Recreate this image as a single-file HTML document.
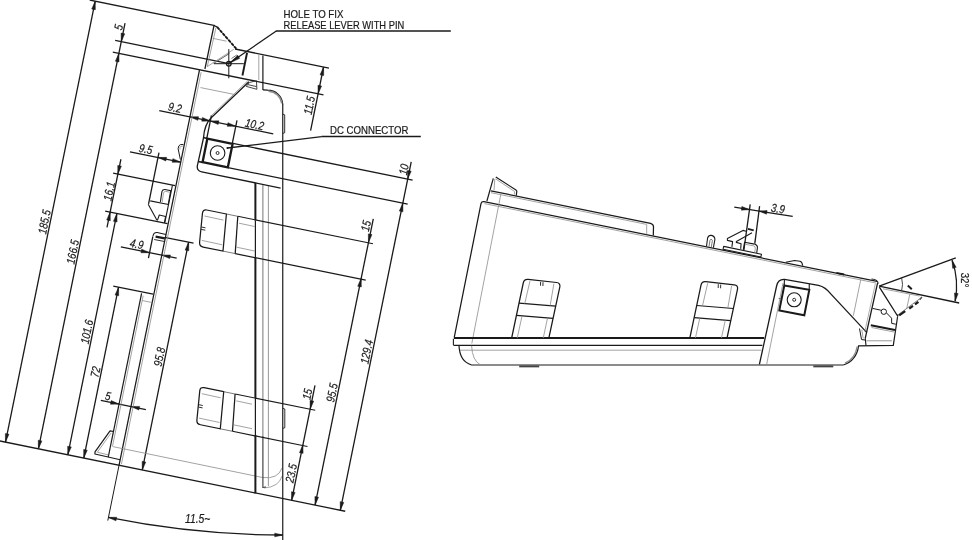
<!DOCTYPE html>
<html><head><meta charset="utf-8"><title>Drawing</title>
<style>html,body{margin:0;padding:0;background:#fff}svg{display:block;will-change:transform}</style></head>
<body>
<svg width="972" height="540" viewBox="0 0 972 540" font-family="'Liberation Sans', sans-serif" fill="#1a1a1a">
<line x1="89.72" y1="0.03" x2="215.05" y2="25.53" stroke="#1a1a1a" stroke-width="1.3"/>
<line x1="115.17" y1="40.42" x2="228.85" y2="63.55" stroke="#1a1a1a" stroke-width="1.3"/>
<line x1="112.8" y1="52.08" x2="323.49" y2="94.95" stroke="#1a1a1a" stroke-width="1.3"/>
<line x1="235.07" y1="49" x2="328.95" y2="68.1" stroke="#1a1a1a" stroke-width="1.3"/>
<line x1="-1.96" y1="440.6" x2="345.23" y2="511.24" stroke="#1a1a1a" stroke-width="1.3"/>
<line x1="159.26" y1="110.62" x2="273.23" y2="133.81" stroke="#1a1a1a" stroke-width="1.3"/>
<line x1="232.99" y1="143.48" x2="412.61" y2="180.02" stroke="#1a1a1a" stroke-width="1.3"/>
<line x1="228.07" y1="167.68" x2="407.69" y2="204.23" stroke="#1a1a1a" stroke-width="1.3"/>
<line x1="129.97" y1="151.81" x2="180.73" y2="162.13" stroke="#1a1a1a" stroke-width="1.3"/>
<line x1="113.09" y1="173.07" x2="175.12" y2="185.69" stroke="#1a1a1a" stroke-width="1.3"/>
<line x1="105.16" y1="211.05" x2="167.48" y2="223.73" stroke="#1a1a1a" stroke-width="1.3"/>
<line x1="165.79" y1="237.57" x2="193.52" y2="243.21" stroke="#1a1a1a" stroke-width="1.3"/>
<line x1="120.84" y1="246.79" x2="176.7" y2="258.16" stroke="#1a1a1a" stroke-width="1.3"/>
<line x1="113.26" y1="286.07" x2="153.14" y2="294.18" stroke="#1a1a1a" stroke-width="1.3"/>
<line x1="100.82" y1="400.39" x2="145.9" y2="409.56" stroke="#1a1a1a" stroke-width="1.3"/>
<line x1="95.2" y1="1.15" x2="5.49" y2="442.12" stroke="#1a1a1a" stroke-width="1.3"/>
<line x1="125.04" y1="23.04" x2="38.41" y2="448.82" stroke="#1a1a1a" stroke-width="1.3"/>
<line x1="120.9" y1="159.25" x2="107.02" y2="227.45" stroke="#1a1a1a" stroke-width="1.3"/>
<line x1="116.92" y1="213.44" x2="67.81" y2="454.8" stroke="#1a1a1a" stroke-width="1.3"/>
<line x1="118.55" y1="287.15" x2="83.78" y2="458.05" stroke="#1a1a1a" stroke-width="1.3"/>
<line x1="188.62" y1="242.21" x2="142.29" y2="469.95" stroke="#1a1a1a" stroke-width="1.3"/>
<line x1="158.99" y1="152.61" x2="148.56" y2="203.86" stroke="#1a1a1a" stroke-width="1.3"/>
<line x1="211.51" y1="115.13" x2="206.83" y2="138.16" stroke="#1a1a1a" stroke-width="1.3"/>
<line x1="236.99" y1="120.31" x2="232.11" y2="144.32" stroke="#1a1a1a" stroke-width="1.3"/>
<line x1="152.87" y1="236.37" x2="148.46" y2="258.02" stroke="#1a1a1a" stroke-width="1.3"/>
<line x1="314.99" y1="385.48" x2="291.63" y2="500.33" stroke="#1a1a1a" stroke-width="1.3"/>
<line x1="373.3" y1="218.76" x2="315.05" y2="505.1" stroke="#1a1a1a" stroke-width="1.3"/>
<line x1="411.22" y1="161.78" x2="340.33" y2="510.24" stroke="#1a1a1a" stroke-width="1.3"/>
<line x1="323.56" y1="67" x2="310.6" y2="130.69" stroke="#1a1a1a" stroke-width="1.3"/>
<polygon points="95.2,1.15 95.34,9.75 91.72,9.01" fill="#1a1a1a" stroke="#1a1a1a" stroke-width="0.5" stroke-linejoin="miter"/>
<polygon points="5.49,442.12 5.35,433.52 8.98,434.25" fill="#1a1a1a" stroke="#1a1a1a" stroke-width="0.5" stroke-linejoin="miter"/>
<polygon points="121.25,41.66 121.11,33.06 124.74,33.79" fill="#1a1a1a" stroke="#1a1a1a" stroke-width="0.5" stroke-linejoin="miter"/>
<polygon points="118.88,53.32 119.02,61.92 115.39,61.18" fill="#1a1a1a" stroke="#1a1a1a" stroke-width="0.5" stroke-linejoin="miter"/>
<polygon points="38.41,448.82 38.27,440.22 41.9,440.95" fill="#1a1a1a" stroke="#1a1a1a" stroke-width="0.5" stroke-linejoin="miter"/>
<polygon points="117.89,174.04 117.75,165.44 121.38,166.18" fill="#1a1a1a" stroke="#1a1a1a" stroke-width="0.5" stroke-linejoin="miter"/>
<polygon points="110.15,212.07 110.29,220.67 106.67,219.93" fill="#1a1a1a" stroke="#1a1a1a" stroke-width="0.5" stroke-linejoin="miter"/>
<polygon points="116.92,213.44 117.05,222.04 113.43,221.3" fill="#1a1a1a" stroke="#1a1a1a" stroke-width="0.5" stroke-linejoin="miter"/>
<polygon points="67.81,454.8 67.67,446.2 71.3,446.93" fill="#1a1a1a" stroke="#1a1a1a" stroke-width="0.5" stroke-linejoin="miter"/>
<polygon points="118.55,287.15 118.69,295.75 115.07,295.01" fill="#1a1a1a" stroke="#1a1a1a" stroke-width="0.5" stroke-linejoin="miter"/>
<polygon points="83.78,458.05 83.65,449.45 87.27,450.18" fill="#1a1a1a" stroke="#1a1a1a" stroke-width="0.5" stroke-linejoin="miter"/>
<polygon points="188.62,242.21 188.76,250.81 185.13,250.08" fill="#1a1a1a" stroke="#1a1a1a" stroke-width="0.5" stroke-linejoin="miter"/>
<polygon points="142.29,469.95 142.15,461.35 145.77,462.09" fill="#1a1a1a" stroke="#1a1a1a" stroke-width="0.5" stroke-linejoin="miter"/>
<polygon points="310.21,409 310.07,400.4 313.69,401.14" fill="#1a1a1a" stroke="#1a1a1a" stroke-width="0.5" stroke-linejoin="miter"/>
<polygon points="302.93,444.77 303.07,453.37 299.44,452.63" fill="#1a1a1a" stroke="#1a1a1a" stroke-width="0.5" stroke-linejoin="miter"/>
<polygon points="291.63,500.33 291.49,491.73 295.11,492.47" fill="#1a1a1a" stroke="#1a1a1a" stroke-width="0.5" stroke-linejoin="miter"/>
<polygon points="368.48,242.48 368.34,233.88 371.96,234.61" fill="#1a1a1a" stroke="#1a1a1a" stroke-width="0.5" stroke-linejoin="miter"/>
<polygon points="361.18,278.34 361.32,286.94 357.69,286.2" fill="#1a1a1a" stroke="#1a1a1a" stroke-width="0.5" stroke-linejoin="miter"/>
<polygon points="315.05,505.1 314.91,496.5 318.53,497.23" fill="#1a1a1a" stroke="#1a1a1a" stroke-width="0.5" stroke-linejoin="miter"/>
<polygon points="407.71,179.03 407.58,170.43 411.2,171.16" fill="#1a1a1a" stroke="#1a1a1a" stroke-width="0.5" stroke-linejoin="miter"/>
<polygon points="402.79,203.23 402.93,211.83 399.3,211.09" fill="#1a1a1a" stroke="#1a1a1a" stroke-width="0.5" stroke-linejoin="miter"/>
<polygon points="340.33,510.24 340.19,501.64 343.82,502.38" fill="#1a1a1a" stroke="#1a1a1a" stroke-width="0.5" stroke-linejoin="miter"/>
<polygon points="323.56,67 323.7,75.6 320.07,74.86" fill="#1a1a1a" stroke="#1a1a1a" stroke-width="0.5" stroke-linejoin="miter"/>
<polygon points="318.1,93.85 317.96,85.25 321.58,85.99" fill="#1a1a1a" stroke="#1a1a1a" stroke-width="0.5" stroke-linejoin="miter"/>
<polygon points="189.94,116.86 198.54,116.72 197.8,120.35" fill="#1a1a1a" stroke="#1a1a1a" stroke-width="0.5" stroke-linejoin="miter"/>
<polygon points="210.32,121.01 201.72,121.14 202.46,117.52" fill="#1a1a1a" stroke="#1a1a1a" stroke-width="0.5" stroke-linejoin="miter"/>
<polygon points="210.32,121.01 218.92,120.87 218.18,124.49" fill="#1a1a1a" stroke="#1a1a1a" stroke-width="0.5" stroke-linejoin="miter"/>
<polygon points="235.8,126.19 227.2,126.33 227.93,122.7" fill="#1a1a1a" stroke="#1a1a1a" stroke-width="0.5" stroke-linejoin="miter"/>
<polygon points="157.99,157.51 166.59,157.37 165.85,160.99" fill="#1a1a1a" stroke="#1a1a1a" stroke-width="0.5" stroke-linejoin="miter"/>
<polygon points="180.73,162.13 172.13,162.27 172.86,158.64" fill="#1a1a1a" stroke="#1a1a1a" stroke-width="0.5" stroke-linejoin="miter"/>
<polygon points="149.56,252.64 140.96,252.77 141.69,249.15" fill="#1a1a1a" stroke="#1a1a1a" stroke-width="0.5" stroke-linejoin="miter"/>
<polygon points="161.81,255.13 170.41,254.99 169.67,258.61" fill="#1a1a1a" stroke="#1a1a1a" stroke-width="0.5" stroke-linejoin="miter"/>
<polygon points="119.05,404.09 110.45,404.23 111.19,400.61" fill="#1a1a1a" stroke="#1a1a1a" stroke-width="0.5" stroke-linejoin="miter"/>
<polygon points="131,406.53 139.6,406.39 138.87,410.01" fill="#1a1a1a" stroke="#1a1a1a" stroke-width="0.5" stroke-linejoin="miter"/>
<text transform="translate(44.19 221.81) rotate(-78.5) scale(0.83 1)" y="4.25" font-size="11.8" text-anchor="middle" stroke="#1a1a1a" stroke-width="0.22" font-style="italic">185.5</text>
<text transform="translate(72.56 251.87) rotate(-78.5) scale(0.83 1)" y="4.25" font-size="11.8" text-anchor="middle" stroke="#1a1a1a" stroke-width="0.22" font-style="italic">166.5</text>
<text transform="translate(118.26 27.27) rotate(-78.5) scale(0.83 1)" y="4.25" font-size="11.8" text-anchor="middle" stroke="#1a1a1a" stroke-width="0.22" font-style="italic">5</text>
<text transform="translate(108.99 191.21) rotate(-78.5) scale(0.83 1)" y="4.25" font-size="11.8" text-anchor="middle" stroke="#1a1a1a" stroke-width="0.22" font-style="italic">16.1</text>
<text transform="translate(86.73 331.7) rotate(-78.5) scale(0.83 1)" y="4.25" font-size="11.8" text-anchor="middle" stroke="#1a1a1a" stroke-width="0.22" font-style="italic">101.6</text>
<text transform="translate(95.21 371.79) rotate(-78.5) scale(0.83 1)" y="4.25" font-size="11.8" text-anchor="middle" stroke="#1a1a1a" stroke-width="0.22" font-style="italic">72</text>
<text transform="translate(159.19 356.75) rotate(-78.5) scale(0.83 1)" y="4.25" font-size="11.8" text-anchor="middle" stroke="#1a1a1a" stroke-width="0.22" font-style="italic">95.8</text>
<text transform="translate(291.03 473.17) rotate(-78.5) scale(0.83 1)" y="4.25" font-size="11.8" text-anchor="middle" stroke="#1a1a1a" stroke-width="0.22" font-style="italic">23.5</text>
<text transform="translate(307.12 394.09) rotate(-78.5) scale(0.83 1)" y="4.25" font-size="11.8" text-anchor="middle" stroke="#1a1a1a" stroke-width="0.22" font-style="italic">15</text>
<text transform="translate(331.81 392.58) rotate(-78.5) scale(0.83 1)" y="4.25" font-size="11.8" text-anchor="middle" stroke="#1a1a1a" stroke-width="0.22" font-style="italic">95.5</text>
<text transform="translate(365.75 225.8) rotate(-78.5) scale(0.83 1)" y="4.25" font-size="11.8" text-anchor="middle" stroke="#1a1a1a" stroke-width="0.22" font-style="italic">15</text>
<text transform="translate(366.45 351.77) rotate(-78.5) scale(0.83 1)" y="4.25" font-size="11.8" text-anchor="middle" stroke="#1a1a1a" stroke-width="0.22" font-style="italic">129.4</text>
<text transform="translate(403.57 169.3) rotate(-78.5) scale(0.83 1)" y="4.25" font-size="11.8" text-anchor="middle" stroke="#1a1a1a" stroke-width="0.22" font-style="italic">10</text>
<text transform="translate(309.12 105.39) rotate(-78.5) scale(0.83 1)" y="4.25" font-size="11.8" text-anchor="middle" stroke="#1a1a1a" stroke-width="0.22" font-style="italic">11.5</text>
<text transform="translate(175 107.49) rotate(11.5) scale(0.83 1)" y="4.25" font-size="11.8" text-anchor="middle" stroke="#1a1a1a" stroke-width="0.22" font-style="italic">9.2</text>
<text transform="translate(254.57 124.19) rotate(11.5) scale(0.83 1)" y="4.25" font-size="11.8" text-anchor="middle" stroke="#1a1a1a" stroke-width="0.22" font-style="italic">10.2</text>
<text transform="translate(145.86 148.92) rotate(11.5) scale(0.83 1)" y="4.25" font-size="11.8" text-anchor="middle" stroke="#1a1a1a" stroke-width="0.22" font-style="italic">9.5</text>
<text transform="translate(136.74 243.9) rotate(11.5) scale(0.83 1)" y="4.25" font-size="11.8" text-anchor="middle" stroke="#1a1a1a" stroke-width="0.22" font-style="italic">4.9</text>
<text transform="translate(107.98 395.82) rotate(11.5) scale(0.83 1)" y="4.25" font-size="11.8" text-anchor="middle" stroke="#1a1a1a" stroke-width="0.22" font-style="italic">5</text>
<path d="M108.48 517.46 A874.6 874.6 0 0 0 282.75 535" fill="none" stroke="#1a1a1a" stroke-width="1.3" />
<polygon points="108.48,517.46 116.69,517.24 115.95,520.87" fill="#1a1a1a" stroke="#1a1a1a" stroke-width="0.5" stroke-linejoin="miter"/>
<polygon points="282.75,535 274.75,536.85 274.75,533.15" fill="#1a1a1a" stroke="#1a1a1a" stroke-width="0.5" stroke-linejoin="miter"/>
<text transform="translate(197.6 518.3) rotate(0) scale(0.83 1)" y="4.5" font-size="12.5" text-anchor="middle" stroke="#1a1a1a" stroke-width="0.22" font-style="italic">11.5~</text>
<line x1="199.47" y1="70.02" x2="119.06" y2="465.22" stroke="#1a1a1a" stroke-width="1.25"/>
<line x1="119.06" y1="465.22" x2="107.8" y2="520.59" stroke="#1a1a1a" stroke-width="1"/>
<line x1="201.16" y1="72.2" x2="121.42" y2="464.17" stroke="#8c8c8c" stroke-width="0.8"/>
<line x1="141.6" y1="293.26" x2="108.24" y2="457.21" stroke="#1a1a1a" stroke-width="1.2"/>
<line x1="143.16" y1="295.62" x2="112.45" y2="446.53" stroke="#8c8c8c" stroke-width="0.8"/>
<line x1="142.16" y1="300.52" x2="151.67" y2="302.46" stroke="#8c8c8c" stroke-width="0.8"/>
<path d="M113.47 431.53 L110.04 430.83 L95.02 451.96 L94.92 453.98 L120.18 459.74" fill="none" stroke="#1a1a1a" stroke-width="1.2" stroke-linejoin="round"/>
<path d="M111.13 432.99 L97.32 452.23 L108.41 454.89" fill="none" stroke="#8c8c8c" stroke-width="0.8" stroke-linejoin="round"/>
<line x1="113.14" y1="446.67" x2="262.5" y2="477.5" stroke="#8c8c8c" stroke-width="0.8"/>
<path d="M262.5 477.5 Q278 479.5 282 468" fill="none" stroke="#8c8c8c" stroke-width="0.8" />
<path d="M264 488 Q279 487 282 476" fill="none" stroke="#8c8c8c" stroke-width="0.8" />
<line x1="282.75" y1="103.9" x2="282.75" y2="540" stroke="#1a1a1a" stroke-width="1.2"/>
<line x1="255.4" y1="182.6" x2="255.4" y2="220.4" stroke="#1a1a1a" stroke-width="2"/>
<line x1="255.4" y1="220.4" x2="255.4" y2="257.4" stroke="#1a1a1a" stroke-width="1.2"/>
<line x1="255.4" y1="257.4" x2="255.4" y2="398" stroke="#1a1a1a" stroke-width="2"/>
<line x1="255.4" y1="398" x2="255.4" y2="435" stroke="#1a1a1a" stroke-width="1.2"/>
<line x1="255.4" y1="435" x2="255.4" y2="493.4" stroke="#1a1a1a" stroke-width="2"/>
<line x1="262.9" y1="184.5" x2="262.9" y2="436" stroke="#777" stroke-width="1"/>
<line x1="262.9" y1="436" x2="262.9" y2="488" stroke="#333" stroke-width="1.1"/>
<path d="M262.9 488.0 L263.6 487.3 L266.0 487.0" fill="none" stroke="#333" stroke-width="1" />
<line x1="268.4" y1="185.8" x2="268.4" y2="486" stroke="#8c8c8c" stroke-width="0.9"/>
<path d="M282.8 114.2 L284.7 114.8 L284.7 132.8 L282.8 133.3" fill="none" stroke="#1a1a1a" stroke-width="0.9" stroke-linejoin="round"/>
<path d="M282.8 408.3 L284.8 409 L284.8 427.8 L282.8 428.3" fill="none" stroke="#1a1a1a" stroke-width="0.9" stroke-linejoin="round"/>
<line x1="262.9" y1="55.6" x2="262.9" y2="89.9" stroke="#1a1a1a" stroke-width="1.2"/>
<path d="M262.9 89.9 L267.8 90.2 A15 15 0 0 1 282.75 104.2" fill="none" stroke="#1a1a1a" stroke-width="1.2" />
<path d="M268.5 91.2 A14 14 0 0 1 281.8 103.5" fill="none" stroke="#8c8c8c" stroke-width="1.6" />
<line x1="258.8" y1="54.4" x2="258.8" y2="80" stroke="#8c8c8c" stroke-width="0.8"/>
<line x1="247.06" y1="52.76" x2="242.44" y2="75.5" stroke="#1a1a1a" stroke-width="1.9"/>
<path d="M214.3 25.8 L217.1 26.9" fill="none" stroke="#1a1a1a" stroke-width="1.2" stroke-linejoin="round"/>
<path d="M213.9 26 L204.9 69" fill="none" stroke="#1a1a1a" stroke-width="1.25" stroke-linejoin="round"/>
<path d="M216 27.5 L207.3 66.5" fill="none" stroke="#8c8c8c" stroke-width="0.8" stroke-linejoin="round"/>
<path d="M217.1 26.9 L236.6 49.1" fill="none" stroke="#1a1a1a" stroke-width="1.9" stroke-dasharray="3.2 1.1"/>
<path d="M217.6 27.6 L236.2 48.7" fill="none" stroke="#1a1a1a" stroke-width="1" stroke-linejoin="round"/>
<path d="M212.7 38.3 L226.5 41.2" fill="none" stroke="#8c8c8c" stroke-width="0.8" stroke-linejoin="round"/>
<path d="M207.1 66.7 L233.8 49.3" fill="none" stroke="#8c8c8c" stroke-width="0.8" stroke-linejoin="round"/>
<path d="M213.8 63.3 L229.3 53.6" fill="none" stroke="#555" stroke-width="0.9" stroke-linejoin="round"/>
<path d="M231.5 58.5 L236.5 55.2 L238.6 56.4 L233 60" fill="none" stroke="#555" stroke-width="0.8" stroke-linejoin="round"/>
<circle cx="228.8" cy="63.8" r="2.3" fill="none" stroke="#1a1a1a" stroke-width="1.3"/>
<line x1="228.8" y1="49.1" x2="228.8" y2="78.3" stroke="#1a1a1a" stroke-width="1"/>
<line x1="213.8" y1="63.7" x2="243.8" y2="63.7" stroke="#1a1a1a" stroke-width="1"/>
<line x1="229.3" y1="63.3" x2="276.3" y2="31" stroke="#1a1a1a" stroke-width="1.3"/>
<line x1="275.9" y1="31" x2="450.8" y2="31" stroke="#1a1a1a" stroke-width="1.3"/>
<polygon points="229.6,63.1 237.65,55.39 239.69,58.35" fill="#1a1a1a" stroke="#1a1a1a" stroke-width="0.5" stroke-linejoin="miter"/>
<text transform="translate(283.6 17.8) rotate(0)" y="0" font-size="11.5" text-anchor="start" stroke="#1a1a1a" stroke-width="0.22" textLength="59.8" lengthAdjust="spacingAndGlyphs">HOLE TO FIX</text>
<text transform="translate(283.6 29.2) rotate(0)" y="0" font-size="11.5" text-anchor="start" stroke="#1a1a1a" stroke-width="0.22" textLength="120.6" lengthAdjust="spacingAndGlyphs">RELEASE LEVER WITH PIN</text>
<path d="M248.9 81.7 L211.2 117.8 Q204.3 124.5 203.5 138 " fill="none" stroke="#1a1a1a" stroke-width="1.3" />
<path d="M247.6 81 L210.5 116.6" fill="none" stroke="#8c8c8c" stroke-width="0.9" stroke-linejoin="round"/>
<path d="M203.5 138 L197.42 165.33 Q196.33 170.72 201.72 171.81 L280.6 188.1" fill="none" stroke="#1a1a1a" stroke-width="1.3" />
<line x1="200.49" y1="87.58" x2="234.29" y2="94.45" stroke="#8c8c8c" stroke-width="0.8"/>
<path d="M249.5 82.5 L256.4 80.6 L256.9 89.3 L246.2 86.4 Z" fill="none" stroke="#333" stroke-width="0.9" stroke-linejoin="round"/>
<path d="M247.8 84.6 L256.5 86.6" fill="none" stroke="#333" stroke-width="0.9" stroke-linejoin="round"/>
<path d="M207.34 138.67 L232.62 143.81 L227.84 167.33 L202.55 162.19 Z" fill="none" stroke="#1a1a1a" stroke-width="2.3" stroke-linejoin="miter"/>
<line x1="203.07" y1="137.59" x2="207.48" y2="138.49" stroke="#1a1a1a" stroke-width="1.6"/>
<line x1="198.2" y1="161.5" x2="202.61" y2="162.4" stroke="#1a1a1a" stroke-width="1.6"/>
<circle cx="217.59" cy="153" r="7.3" fill="none" stroke="#1a1a1a" stroke-width="1.1"/>
<circle cx="217.59" cy="153" r="1.5" fill="none" stroke="#1a1a1a" stroke-width="0.9"/>
<circle cx="227.5" cy="148" r="1.1" fill="#1a1a1a"/>
<line x1="227.5" y1="148" x2="321.7" y2="136.6" stroke="#1a1a1a" stroke-width="1.3"/>
<line x1="321.5" y1="136.5" x2="420.8" y2="136.5" stroke="#1a1a1a" stroke-width="1.3"/>
<text transform="translate(330 134.3) rotate(0)" y="0" font-size="11.5" text-anchor="start" stroke="#1a1a1a" stroke-width="0.22" textLength="78.4" lengthAdjust="spacingAndGlyphs">DC CONNECTOR</text>
<path d="M183.4 144.6 L180.6 144.5 Q178.3 145.2 178.1 148.7 L180.4 159.6" fill="none" stroke="#1a1a1a" stroke-width="1" />
<path d="M182.6 146.2 L180.8 146.3 Q179.7 147 179.9 149.5" fill="none" stroke="#8c8c8c" stroke-width="0.8" />
<path d="M148.2 204.3 L156.7 219.8 L157.5 220.1 L159.3 215 L165.6 216.5 L164.4 222.8" fill="none" stroke="#1a1a1a" stroke-width="1.1" stroke-linejoin="round"/>
<path d="M150.2 200.9 L168.5 204.5" fill="none" stroke="#1a1a1a" stroke-width="1.1" stroke-linejoin="round"/>
<path d="M160.4 201.8 L161.9 191.6 Q162.7 189.3 165 189.5 L170.7 190.6 L168.3 204.3" fill="none" stroke="#1a1a1a" stroke-width="1.1" />
<path d="M162.2 202 L163.5 193.0 Q164.2 191.2 165.8 191.4 L169.6 192.2" fill="none" stroke="#8c8c8c" stroke-width="0.8" />
<path d="M172.47 185.15 L164.87 222.48" fill="none" stroke="#1a1a1a" stroke-width="1.1" stroke-linejoin="round"/>
<path d="M165.9 234.5 L157.2 232.5 Q153.6 232.2 153.0 236.0" fill="none" stroke="#1a1a1a" stroke-width="1.1" />
<path d="M155.6 236.6 L164.9 238.4" fill="none" stroke="#1a1a1a" stroke-width="2.2" stroke-linejoin="round"/>
<path d="M154.2 239.5 L165 241.6" fill="none" stroke="#1a1a1a" stroke-width="0.9" stroke-linejoin="round"/>
<path d="M226.4 214 L206.77 210 Q202.85 209.2 202.46 213.2 L199.59 242.25 Q199.2 246.25 203.12 247.05 L223 251.1 Z" fill="none" stroke="#1a1a1a" stroke-width="1.25" />
<path d="M226.4 214 L237.8 216.3" fill="none" stroke="#555" stroke-width="0.8" stroke-linejoin="round"/>
<path d="M223 251.1 L235.2 253.6" fill="none" stroke="#555" stroke-width="0.8" stroke-linejoin="round"/>
<path d="M237.8 216.3 L235.2 253.6" fill="none" stroke="#1a1a1a" stroke-width="1.25" stroke-linejoin="round"/>
<path d="M204.5 216 L223.4 220.1" fill="none" stroke="#8c8c8c" stroke-width="0.8" stroke-linejoin="round"/>
<path d="M201.8 240.4 L222.3 244.8" fill="none" stroke="#8c8c8c" stroke-width="0.8" stroke-linejoin="round"/>
<path d="M239 223.2 L254.7 226.5" fill="none" stroke="#8c8c8c" stroke-width="0.8" stroke-linejoin="round"/>
<path d="M236.6 247.2 L254.7 251" fill="none" stroke="#8c8c8c" stroke-width="0.8" stroke-linejoin="round"/>
<path d="M201.4 227 L205.5 227.8" fill="none" stroke="#1a1a1a" stroke-width="0.9" stroke-linejoin="round"/>
<path d="M201.2 229.4 L205.3 230.2" fill="none" stroke="#1a1a1a" stroke-width="0.9" stroke-linejoin="round"/>
<path d="M223.7 391.7 L204.07 387.7 Q200.15 386.9 199.76 390.9 L196.89 419.95 Q196.5 423.95 200.42 424.75 L220.3 428.8 Z" fill="none" stroke="#1a1a1a" stroke-width="1.25" />
<path d="M223.7 391.7 L235.1 394" fill="none" stroke="#555" stroke-width="0.8" stroke-linejoin="round"/>
<path d="M220.3 428.8 L232.5 431.3" fill="none" stroke="#555" stroke-width="0.8" stroke-linejoin="round"/>
<path d="M235.1 394 L232.5 431.3" fill="none" stroke="#1a1a1a" stroke-width="1.25" stroke-linejoin="round"/>
<path d="M201.8 393.7 L220.7 397.8" fill="none" stroke="#8c8c8c" stroke-width="0.8" stroke-linejoin="round"/>
<path d="M199.1 418.1 L219.6 422.5" fill="none" stroke="#8c8c8c" stroke-width="0.8" stroke-linejoin="round"/>
<path d="M236.3 400.9 L252 404.2" fill="none" stroke="#8c8c8c" stroke-width="0.8" stroke-linejoin="round"/>
<path d="M233.9 424.9 L252 428.7" fill="none" stroke="#8c8c8c" stroke-width="0.8" stroke-linejoin="round"/>
<path d="M198.7 404.7 L202.8 405.5" fill="none" stroke="#1a1a1a" stroke-width="0.9" stroke-linejoin="round"/>
<path d="M198.5 407.1 L202.6 407.9" fill="none" stroke="#1a1a1a" stroke-width="0.9" stroke-linejoin="round"/>
<line x1="237.8" y1="216.3" x2="373" y2="243.81" stroke="#1a1a1a" stroke-width="1.1"/>
<line x1="235.2" y1="253.6" x2="365.71" y2="280.15" stroke="#1a1a1a" stroke-width="1.1"/>
<line x1="235.1" y1="394" x2="315.25" y2="410.31" stroke="#1a1a1a" stroke-width="1.1"/>
<line x1="232.5" y1="431.3" x2="307.47" y2="446.55" stroke="#1a1a1a" stroke-width="1.1"/>
<path d="M454.2 337.6 L481.0 203.6 Q481.6 201.4 484 201.7 L877 281.4" fill="none" stroke="#1a1a1a" stroke-width="1.25" />
<line x1="484.5" y1="203.6" x2="876" y2="283" stroke="#8c8c8c" stroke-width="0.8"/>
<line x1="500.8" y1="194.4" x2="471.8" y2="343.5" stroke="#8c8c8c" stroke-width="0.8"/>
<path d="M486.9 201.0 L493.3 178.3" fill="none" stroke="#1a1a1a" stroke-width="1.2" />
<path d="M490.8 190.8 L650.5 223.3 Q653.6 224.2 653.5 227 L653.3 235.6" fill="none" stroke="#1a1a1a" stroke-width="1.25" />
<line x1="491" y1="192.7" x2="646.6" y2="224.4" stroke="#8c8c8c" stroke-width="0.8"/>
<line x1="646.7" y1="224.5" x2="646.7" y2="234.2" stroke="#8c8c8c" stroke-width="0.8"/>
<path d="M495.8 177 L516 190 L516.8 191.2 L516.3 195.6" fill="none" stroke="#1a1a1a" stroke-width="1.2" stroke-linejoin="round"/>
<path d="M494.8 179 L494 190.5" fill="none" stroke="#8c8c8c" stroke-width="0.8" stroke-linejoin="round"/>
<path d="M495.5 178.8 L514.6 191.5 L514.4 194.6" fill="none" stroke="#8c8c8c" stroke-width="0.8" stroke-linejoin="round"/>
<line x1="454" y1="338" x2="764.2" y2="338" stroke="#1a1a1a" stroke-width="1.9"/>
<path d="M453.4 338.8 L453.4 345 L454.6 345.4 L762.4 345.4" fill="none" stroke="#1a1a1a" stroke-width="1.1" stroke-linejoin="round"/>
<line x1="460" y1="350.2" x2="761.4" y2="350.2" stroke="#8c8c8c" stroke-width="0.8"/>
<path d="M459.0 345.6 Q459.6 361.5 471.5 365.0 L843.3 365.0" fill="none" stroke="#1a1a1a" stroke-width="1.2" />
<path d="M471.6 345.8 Q472.3 360.5 480.3 364.8" fill="none" stroke="#8c8c8c" stroke-width="0.8" />
<line x1="519.2" y1="366.4" x2="539.2" y2="366.4" stroke="#444" stroke-width="1.9"/>
<line x1="813.3" y1="366.4" x2="833.3" y2="366.4" stroke="#444" stroke-width="1.9"/>
<path d="M843.3 365 Q856.5 360.5 858.6 345.8 L893.3 345.3 L897.6 316.5" fill="none" stroke="#1a1a1a" stroke-width="1.2" />
<path d="M845 363.2 Q855.3 358.6 857.2 346.5" fill="none" stroke="#8c8c8c" stroke-width="1.4" />
<line x1="866.5" y1="340.8" x2="892" y2="340.8" stroke="#8c8c8c" stroke-width="0.9"/>
<path d="M785.8 262.3 L794.5 260.5 L800.0 261.3 Q802.2 261.9 802.7 265.6" fill="none" stroke="#1a1a1a" stroke-width="1.1" />
<line x1="836.4" y1="272.9" x2="844.2" y2="274.5" stroke="#1a1a1a" stroke-width="1.9"/>
<path d="M706.5 246.2 L707.6 238.0 Q708.6 235.0 711.3 235.4 Q714.8 236.0 714.9 239.5 L713.4 247.6" fill="none" stroke="#1a1a1a" stroke-width="1.1" />
<path d="M709.0 246.5 L710.0 240.2 Q711.2 237.6 712.4 240.6 L711.3 247.0" fill="none" stroke="#555" stroke-width="0.8" />
<path d="M723.7 246.4 L761.5 254.2 L760.9 257 L723.1 249.2 Z" fill="none" stroke="#1a1a1a" stroke-width="1.1" stroke-linejoin="round"/>
<path d="M731.9 246.9 L732.6 241.6 L727.4 240.4 L727.4 238.5 L743 230.4 L746 231.2" fill="none" stroke="#1a1a1a" stroke-width="1.1" stroke-linejoin="round"/>
<path d="M740.7 248.9 L741.1 243.7 L736.3 242.4 L736.4 241.4 L752 232.7" fill="none" stroke="#1a1a1a" stroke-width="1.1" stroke-linejoin="round"/>
<path d="M743.3 249.6 L744.6 242.2 L754.6 244.1" fill="none" stroke="#1a1a1a" stroke-width="1.1" stroke-linejoin="round"/>
<path d="M754.6 244.1 Q757.8 245.0 757.4 248.0 L756.7 252.8" fill="none" stroke="#1a1a1a" stroke-width="1.1" />
<path d="M745.8 244.4 L753.6 245.8 Q755.6 246.4 755.3 248.4 L754.7 252.2" fill="none" stroke="#8c8c8c" stroke-width="0.8" />
<path d="M747.9 228.8 L753.7 230.3" fill="none" stroke="#1a1a1a" stroke-width="1.9" stroke-linejoin="round"/>
<line x1="734.3" y1="207.2" x2="792.7" y2="216.4" stroke="#1a1a1a" stroke-width="1.3"/>
<line x1="750.2" y1="204.4" x2="743.9" y2="250" stroke="#1a1a1a" stroke-width="1.3"/>
<line x1="759.6" y1="206.1" x2="754.8" y2="243.7" stroke="#1a1a1a" stroke-width="1.3"/>
<polygon points="749.5,209.6 741.31,210.18 741.89,206.53" fill="#1a1a1a" stroke="#1a1a1a" stroke-width="0.5" stroke-linejoin="miter"/>
<polygon points="758.9,211.1 767.09,210.52 766.51,214.17" fill="#1a1a1a" stroke="#1a1a1a" stroke-width="0.5" stroke-linejoin="miter"/>
<text transform="translate(778 208.4) rotate(9) scale(0.83 1)" y="4.25" font-size="11.8" text-anchor="middle" stroke="#1a1a1a" stroke-width="0.22" font-style="italic">3.9</text>
<path d="M511.66 338 L523.26 283 Q524.11 279 528.11 279.43 L556.5 282.5 Q560.5 282.93 559.83 286.93 L548.85 338" fill="none" stroke="#1a1a1a" stroke-width="1.25" />
<path d="M519 303.2 L555.69 306.2" fill="none" stroke="#1a1a1a" stroke-width="1.2" stroke-linejoin="round"/>
<path d="M516.43 315.4 L553.06 318.4" fill="none" stroke="#1a1a1a" stroke-width="1.2" stroke-linejoin="round"/>
<path d="M530 280.9 L524.74 303.7" fill="none" stroke="#8c8c8c" stroke-width="0.8" stroke-linejoin="round"/>
<path d="M553.9 283.7 L550.13 305.7" fill="none" stroke="#8c8c8c" stroke-width="0.8" stroke-linejoin="round"/>
<path d="M521.99 316.1 L517.26 338" fill="none" stroke="#8c8c8c" stroke-width="0.8" stroke-linejoin="round"/>
<path d="M547.55 318 L543.25 338" fill="none" stroke="#8c8c8c" stroke-width="0.8" stroke-linejoin="round"/>
<path d="M540.6 281.9 L540.5 285.7" fill="none" stroke="#1a1a1a" stroke-width="0.9" stroke-linejoin="round"/>
<path d="M543 282.2 L542.9 286" fill="none" stroke="#1a1a1a" stroke-width="0.9" stroke-linejoin="round"/>
<path d="M689.84 338 L700.96 285.3 Q701.81 281.3 705.81 281.73 L734.2 284.8 Q738.2 285.23 737.53 289.23 L727.04 338" fill="none" stroke="#1a1a1a" stroke-width="1.25" />
<path d="M696.7 305.5 L733.39 308.5" fill="none" stroke="#1a1a1a" stroke-width="1.2" stroke-linejoin="round"/>
<path d="M694.13 317.7 L730.76 320.7" fill="none" stroke="#1a1a1a" stroke-width="1.2" stroke-linejoin="round"/>
<path d="M707.7 283.2 L702.44 306" fill="none" stroke="#8c8c8c" stroke-width="0.8" stroke-linejoin="round"/>
<path d="M731.6 286 L727.83 308" fill="none" stroke="#8c8c8c" stroke-width="0.8" stroke-linejoin="round"/>
<path d="M699.69 318.4 L695.44 338" fill="none" stroke="#8c8c8c" stroke-width="0.8" stroke-linejoin="round"/>
<path d="M725.25 320.3 L721.44 338" fill="none" stroke="#8c8c8c" stroke-width="0.8" stroke-linejoin="round"/>
<path d="M718.3 284.2 L718.2 288" fill="none" stroke="#1a1a1a" stroke-width="0.9" stroke-linejoin="round"/>
<path d="M720.7 284.5 L720.6 288.3" fill="none" stroke="#1a1a1a" stroke-width="0.9" stroke-linejoin="round"/>
<path d="M759.4 364.4 L776.6 286.0 Q778.0 279.0 784.5 279.4 L818.5 285.4 Q825.5 287.0 831 294.2 L866.9 332.6" fill="none" stroke="#1a1a1a" stroke-width="1.3" />
<line x1="783" y1="283" x2="766.6" y2="364.6" stroke="#8c8c8c" stroke-width="0.8"/>
<path d="M784.3 285.5 L809.3 289.7 L804.3 315.3 L779.3 310.4 Z" fill="none" stroke="#1a1a1a" stroke-width="2" stroke-linejoin="miter"/>
<line x1="784.4" y1="279.6" x2="784.3" y2="285" stroke="#1a1a1a" stroke-width="1.1"/>
<line x1="809.3" y1="284" x2="809.2" y2="289.2" stroke="#1a1a1a" stroke-width="1.1"/>
<line x1="778.6" y1="298.4" x2="781.2" y2="298.8" stroke="#555" stroke-width="0.8"/>
<circle cx="794.2" cy="299.8" r="7" fill="none" stroke="#1a1a1a" stroke-width="1.1"/>
<circle cx="794.2" cy="299.8" r="1.5" fill="none" stroke="#1a1a1a" stroke-width="0.9"/>
<path d="M871.5 279.0 Q877.8 279.2 878.2 283.6" fill="none" stroke="#1a1a1a" stroke-width="1.1" />
<line x1="877.6" y1="283" x2="865.2" y2="338.5" stroke="#1a1a1a" stroke-width="1.25"/>
<line x1="875.4" y1="283.6" x2="864.8" y2="331.5" stroke="#8c8c8c" stroke-width="0.7"/>
<line x1="860.8" y1="279.4" x2="853.3" y2="315.8" stroke="#8c8c8c" stroke-width="0.8"/>
<path d="M866 345.6 L865.3 338.4" fill="none" stroke="#1a1a1a" stroke-width="1.1" stroke-linejoin="round"/>
<path d="M859.5 328.5 L861.5 339.5 L866 340.2" fill="none" stroke="#1a1a1a" stroke-width="1" stroke-linejoin="round"/>
<path d="M861.8 329.5 L863.2 338.5" fill="none" stroke="#8c8c8c" stroke-width="0.8" stroke-linejoin="round"/>
<circle cx="883.8" cy="311.7" r="2.7" fill="none" stroke="#1a1a1a" stroke-width="1.0"/>
<path d="M872.5 308.4 L880.9 310.2" fill="none" stroke="#1a1a1a" stroke-width="1" stroke-linejoin="round"/>
<path d="M886.6 313 L891.6 318.2 L891.7 323.4 L895.8 324.2" fill="none" stroke="#1a1a1a" stroke-width="1" stroke-linejoin="round"/>
<path d="M870.8 325.3 L895 330" fill="none" stroke="#1a1a1a" stroke-width="1.9" stroke-linejoin="round"/>
<path d="M871.5 327.5 L894 332" fill="none" stroke="#8c8c8c" stroke-width="0.8" stroke-linejoin="round"/>
<line x1="879.2" y1="286.2" x2="955.8" y2="257.8" stroke="#1a1a1a" stroke-width="1.3"/>
<line x1="879.2" y1="286.2" x2="959.2" y2="303" stroke="#1a1a1a" stroke-width="1.3"/>
<path d="M879.4 287.2 L897.6 316 L898.2 314.6" fill="none" stroke="#1a1a1a" stroke-width="1.3" stroke-linejoin="round"/>
<path d="M919.8 299.6 L921.9 297" fill="none" stroke="#1a1a1a" stroke-width="1.2" stroke-linejoin="round"/>
<path d="M898.4 314.6 L921.6 297.4" fill="none" stroke="#777" stroke-width="1" stroke-linejoin="round"/>
<path d="M899.2 315.4 L905.2 311.2" fill="none" stroke="#1a1a1a" stroke-width="2.2" stroke-linejoin="round"/>
<path d="M909.2 308.6 L913 305.8" fill="none" stroke="#1a1a1a" stroke-width="2.2" stroke-linejoin="round"/>
<path d="M915 304.4 L918.4 301.8" fill="none" stroke="#1a1a1a" stroke-width="2.2" stroke-linejoin="round"/>
<path d="M883 288.8 L919.5 296" fill="none" stroke="#8c8c8c" stroke-width="0.8" stroke-linejoin="round"/>
<path d="M909.8 294.2 L906.8 308" fill="none" stroke="#8c8c8c" stroke-width="0.8" stroke-linejoin="round"/>
<path d="M907.8 285.5 L911.8 289.2" fill="none" stroke="#1a1a1a" stroke-width="1.9" stroke-linejoin="round"/>
<path d="M901.6 277.8 A24 24 0 0 1 901.6 291.0" fill="none" stroke="#333" stroke-width="0.9" />
<path d="M952.09 260.17 A77.4 77.4 0 0 1 955.13 301.2" fill="none" stroke="#1a1a1a" stroke-width="1.3" />
<polygon points="952.09,260.17 956.17,267.29 952.63,268.36" fill="#1a1a1a" stroke="#1a1a1a" stroke-width="0.5" stroke-linejoin="miter"/>
<polygon points="955.13,301.2 954.46,293.01 958.12,293.55" fill="#1a1a1a" stroke="#1a1a1a" stroke-width="0.5" stroke-linejoin="miter"/>
<text transform="translate(965.3 280) rotate(90) scale(0.83 1)" y="4.21" font-size="11.7" text-anchor="middle" stroke="#1a1a1a" stroke-width="0.22">32°</text>
</svg>
</body></html>
